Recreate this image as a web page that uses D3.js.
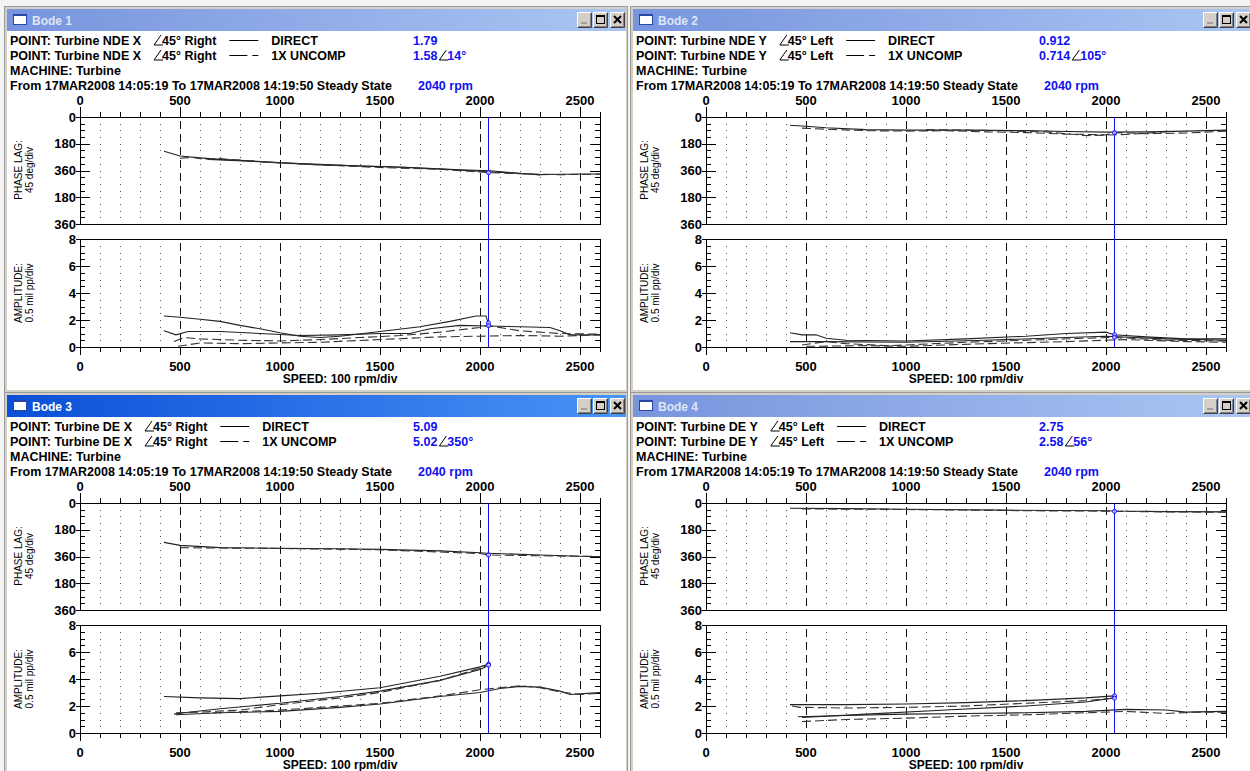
<!DOCTYPE html>
<html>
<head>
<meta charset="utf-8">
<script src="https://cdn.jsdelivr.net/npm/d3@7"></script>
<style>
  body { margin: 0; background: #f4f4f4; }
  svg { display: block; font-family: "Liberation Sans", Arial, sans-serif; }
</style>
</head>
<body>
<svg id="chart" width="1250" height="771"></svg>
<script>
// ---- axis values ----
const speedMax = 2600;
const speedLabels = [0, 500, 1000, 1500, 2000, 2500];
const phaseLabelTicks = [0, 180, 360, 540, 720];
const phaseLabelText = ["0", "180", "360", "180", "360"];
const ampLabelTicks = [0, 2, 4, 6, 8];
const cursorRpm = 2040;

// ---- window headers ----
const windowTitles = ["Bode 1", "Bode 2", "Bode 3", "Bode 4"];
const pointNames = ["Turbine NDE X", "Turbine NDE Y", "Turbine DE X", "Turbine DE Y"];
const orientations = ["Right", "Left", "Right", "Left"];
const directAmp = [1.79, 0.912, 5.09, 2.75];
const uncompAmp = [1.58, 0.714, 5.02, 2.58];
const uncompPhase = [14, 105, 350, 56];
const activeWindow = "Bode 3";

// ---- traces: [rpm, phase deg (0..720 display)] ----
const bode1PhaseDirect = [
  [[420, 230], [500, 262], [600, 275], [700, 285], [800, 292], [1000, 308], [1200, 318], [1400, 330], [1600, 338], [1800, 350], [2000, 365], [2040, 368], [2200, 380], [2300, 388], [2400, 385], [2600, 384]],
  [[640, 285], [900, 300], [1200, 322], [1600, 336], [1900, 356], [2050, 362], [2300, 390]]
];
const bode1PhaseUncomp = [
  [[500, 278], [560, 272], [620, 285], [700, 280], [800, 290], [1000, 310], [1200, 322], [1500, 340], [1800, 352], [2000, 370], [2040, 374], [2200, 382], [2400, 388], [2600, 384]]
];
const bode2PhaseDirect = [
  [[420, 55], [500, 62], [600, 72], [800, 85], [1000, 88], [1300, 88], [1600, 92], [1800, 98], [2000, 102], [2200, 100], [2400, 95], [2600, 88]]
];
const bode2PhaseUncomp = [
  [[480, 75], [600, 82], [800, 92], [1000, 95], [1200, 92], [1400, 100], [1600, 105], [1800, 115], [2000, 120], [2040, 105], [2200, 112], [2400, 108], [2600, 95]],
  [[1100, 85], [1400, 90], [1700, 100], [1900, 125], [2100, 118], [2300, 100]]
];
const bode3PhaseDirect = [
  [[420, 265], [500, 285], [700, 300], [1000, 305], [1300, 308], [1500, 312], [1800, 322], [2000, 335], [2040, 338], [2300, 350], [2500, 358], [2600, 362]]
];
const bode3PhaseUncomp = [
  [[500, 300], [700, 303], [1000, 306], [1500, 315], [2000, 340], [2040, 350], [2300, 355], [2600, 360]]
];
const bode4PhaseDirect = [
  [[420, 35], [700, 38], [1000, 42], [1500, 48], [2000, 52], [2040, 54], [2300, 58], [2600, 60]]
];
const bode4PhaseUncomp = [
  [[480, 40], [800, 42], [1200, 46], [1600, 52], [2000, 55], [2040, 56], [2300, 60], [2600, 62]]
];

// ---- traces: [rpm, amplitude mil pp] ----
const bode1AmpDirect = [
  [[420, 2.3], [500, 2.2], [600, 2.05], [700, 1.9], [800, 1.6], [900, 1.35], [1000, 1.05], [1100, 0.8], [1200, 0.7], [1300, 0.8], [1500, 1.15], [1700, 1.5], [1850, 1.9], [1980, 2.3], [2030, 2.3], [2040, 1.79]],
  [[420, 1.2], [480, 0.9], [540, 1.15], [700, 1.15], [900, 1.0], [1100, 0.85], [1300, 0.9], [1500, 1.0], [1650, 1.0], [1750, 1.35], [1900, 1.6], [2040, 1.55], [2200, 1.5], [2350, 1.45], [2400, 1.2], [2450, 0.9], [2600, 0.9]]
];
const bode1AmpUncomp = [
  [[470, 0.4], [520, 0.7], [600, 0.6], [800, 0.5], [1000, 0.45], [1200, 0.55], [1400, 0.7], [1600, 0.85], [1800, 1.1], [2000, 1.45], [2040, 1.58], [2200, 1.2], [2400, 1.0], [2600, 0.95]],
  [[490, 0.05], [600, 0.3], [800, 0.25], [1000, 0.3], [1200, 0.35], [1500, 0.55], [1800, 0.75], [2000, 0.8], [2200, 0.85], [2400, 0.8], [2600, 0.9]]
];
const bode2AmpDirect = [
  [[420, 1.05], [480, 0.9], [550, 0.9], [600, 0.65], [700, 0.5], [1000, 0.45], [1300, 0.6], [1600, 0.8], [1800, 1.0], [2000, 1.1], [2040, 0.912], [2200, 0.75], [2400, 0.6], [2600, 0.6]],
  [[420, 0.4], [600, 0.4], [1000, 0.35], [1400, 0.5], [1800, 0.7], [2000, 0.8], [2300, 0.6], [2600, 0.5]]
];
const bode2AmpUncomp = [
  [[480, 0.15], [600, 0.4], [700, 0.25], [900, 0.1], [1000, 0.15], [1300, 0.35], [1600, 0.5], [1900, 0.65], [2040, 0.714], [2300, 0.5], [2600, 0.45]],
  [[500, 0.05], [800, 0.1], [1000, 0.05], [1400, 0.25], [1800, 0.4], [2100, 0.55], [2400, 0.4], [2600, 0.35]]
];
const bode3AmpDirect = [
  [[420, 2.7], [600, 2.6], [800, 2.55], [1000, 2.75], [1200, 2.95], [1500, 3.35], [1800, 4.2], [2000, 4.9], [2040, 5.09]],
  [[470, 1.4], [520, 1.5], [700, 1.8], [1000, 2.2], [1300, 2.7], [1500, 3.1], [1800, 3.9], [2000, 4.7], [2030, 4.9]],
  [[480, 1.35], [700, 1.5], [1000, 1.6], [1300, 1.9], [1500, 2.15], [1800, 2.7], [2000, 3.0], [2100, 3.3], [2200, 3.45], [2300, 3.4], [2400, 3.1], [2450, 2.85], [2500, 2.9], [2600, 3.0]]
];
const bode3AmpUncomp = [
  [[480, 1.5], [600, 1.55], [800, 1.7], [1000, 2.1], [1300, 2.6], [1500, 3.0], [1800, 3.9], [2000, 4.8], [2040, 5.02]],
  [[600, 1.45], [1000, 1.7], [1500, 2.2], [1800, 2.75], [2000, 3.2], [2200, 3.5], [2300, 3.35], [2400, 3.05], [2500, 2.85], [2600, 2.95]]
];
const bode4AmpDirect = [
  [[420, 2.1], [700, 2.1], [1000, 2.15], [1300, 2.25], [1600, 2.4], [1900, 2.6], [2040, 2.75]],
  [[460, 1.2], [700, 1.3], [1000, 1.4], [1300, 1.45], [1600, 1.5], [1900, 1.6], [2100, 1.75], [2300, 1.7], [2400, 1.55], [2600, 1.6]],
  [[480, 1.15], [800, 1.4], [1200, 1.7], [1600, 2.0], [1900, 2.3], [2040, 2.6]]
];
const bode4AmpUncomp = [
  [[430, 2.0], [470, 1.9], [700, 1.85], [1000, 1.9], [1300, 2.0], [1600, 2.2], [1900, 2.4], [2040, 2.58]],
  [[480, 0.85], [700, 1.0], [1000, 1.1], [1300, 1.25], [1600, 1.35], [1900, 1.5], [2100, 1.6], [2300, 1.45], [2450, 1.55], [2600, 1.55]]
];

const phaseDirect = [bode1PhaseDirect, bode2PhaseDirect, bode3PhaseDirect, bode4PhaseDirect];
const phaseUncomp = [bode1PhaseUncomp, bode2PhaseUncomp, bode3PhaseUncomp, bode4PhaseUncomp];
const ampDirect = [bode1AmpDirect, bode2AmpDirect, bode3AmpDirect, bode4AmpDirect];
const ampUncomp = [bode1AmpUncomp, bode2AmpUncomp, bode3AmpUncomp, bode4AmpUncomp];

const svg = d3.select("#chart");
const blue = "#1010f0";

const defs = svg.append("defs");
const gradInactive = defs.append("linearGradient").attr("id", "tbInactive");
gradInactive.append("stop").attr("offset", "0%").attr("stop-color", "#7894dd");
gradInactive.append("stop").attr("offset", "100%").attr("stop-color", "#a9c6f3");
const gradActive = defs.append("linearGradient").attr("id", "tbActive");
gradActive.append("stop").attr("offset", "0%").attr("stop-color", "#0a50d8");
gradActive.append("stop").attr("offset", "100%").attr("stop-color", "#4894f6");

// linear lookup of a trace at given rpm
function valueAt(trace, rpm) {
  for (let k = 1; k < trace.length; k++) {
    const a = trace[k - 1], b = trace[k];
    if (rpm >= a[0] && rpm <= b[0]) return a[1] + (b[1] - a[1]) * (rpm - a[0]) / (b[0] - a[0]);
  }
  return trace[trace.length - 1][1];
}

function drawButton(g, x, y, kind) {
  const b = g.append("g").attr("transform", `translate(${x},${y})`);
  b.append("rect").attr("width", 15).attr("height", 16).attr("fill", "#d4d0c8");
  b.append("path").attr("d", "M0.5,15.5V0.5H14.5").attr("stroke", "#fff").attr("fill", "none");
  b.append("path").attr("d", "M0.5,15.5H14.5V0.5").attr("stroke", "#404040").attr("fill", "none");
  b.append("path").attr("d", "M1.5,14.5H13.5V1.5").attr("stroke", "#808080").attr("fill", "none");
  if (kind === "min") {
    b.append("rect").attr("x", 4).attr("y", 10).attr("width", 6).attr("height", 2).attr("fill", "#a0a0a0");
  } else if (kind === "max") {
    b.append("rect").attr("x", 3.5).attr("y", 3.5).attr("width", 8).attr("height", 8)
      .attr("fill", "none").attr("stroke", "#000");
    b.append("rect").attr("x", 3).attr("y", 3).attr("width", 9).attr("height", 2).attr("fill", "#000");
  } else {
    b.append("path").attr("d", "M4,4L11,11M11,4L4,11").attr("stroke", "#000").attr("stroke-width", 2);
  }
}

function angleGlyph(g, x, by) {
  g.append("path").attr("d", `M${x},${by}L${x + 7},${by - 10}M${x},${by}H${x + 9}`)
    .attr("stroke", "#000").attr("stroke-width", 1).attr("fill", "none");
}

function drawPanel(i) {
  const ox = (i % 2) * 626, oy = Math.floor(i / 2) * 386;
  const g = svg.append("g").attr("transform", `translate(${ox},${oy})`);
  const active = windowTitles[i] === activeWindow;

  // window chrome
  g.append("rect").attr("x", 4.5).attr("y", 6.5).attr("width", 623).attr("height", 387)
    .attr("fill", "#d4d0c8").attr("stroke", "#9a9a9a");
  g.append("rect").attr("x", 7).attr("y", 9).attr("width", 619).attr("height", 22)
    .attr("fill", active ? "url(#tbActive)" : "url(#tbInactive)");
  g.append("rect").attr("x", 7).attr("y", 31).attr("width", 619).attr("height", 359).attr("fill", "#fff");
  g.append("rect").attr("x", 13.5).attr("y", 14.5).attr("width", 13).attr("height", 10)
    .attr("fill", "#fff").attr("stroke", "#2646a8");
  g.append("rect").attr("x", 13).attr("y", 14).attr("width", 14).attr("height", 2).attr("fill", "#2646a8");
  g.append("text").attr("x", 32).attr("y", 25).attr("font-size", 12).attr("font-weight", "bold")
    .attr("fill", active ? "#fff" : "#dde6f8").text(windowTitles[i]);
  drawButton(g, 577, 12, "min");
  drawButton(g, 593, 12, "max");
  drawButton(g, 610, 12, "close");

  // header
  const hdr = g.append("g").attr("font-size", 12.5).attr("font-weight", "bold").attr("fill", "#000");
  ["DIRECT", "1X UNCOMP"].forEach((kind, r) => {
    const by = 45 + r * 15;
    const t = hdr.append("text").attr("x", 10).attr("y", by).text("POINT: " + pointNames[i]);
    let x = 10 + t.node().getComputedTextLength() + 13;
    angleGlyph(hdr, x, by);
    const t2 = hdr.append("text").attr("x", x + 8).attr("y", by).text("45° " + orientations[i]);
    x = x + 8 + t2.node().getComputedTextLength() + 13;
    hdr.append("line").attr("x1", x).attr("x2", x + 29).attr("y1", by - 4.5).attr("y2", by - 4.5)
      .attr("stroke", "#000").attr("stroke-dasharray", r === 0 ? null : "18,5,6,100");
    hdr.append("text").attr("x", x + 42).attr("y", by).text(kind);
    const v = hdr.append("text").attr("x", 413).attr("y", by).attr("fill", blue)
      .text(String(r === 0 ? directAmp[i] : uncompAmp[i]));
    if (r === 1) {
      const vx = 413 + v.node().getComputedTextLength() + 2;
      angleGlyph(hdr, vx, by);
      hdr.append("text").attr("x", vx + 8).attr("y", by).attr("fill", blue).text(uncompPhase[i] + "°");
    }
  });
  hdr.append("text").attr("x", 10).attr("y", 75).text("MACHINE: Turbine");
  hdr.append("text").attr("x", 10).attr("y", 90).text("From 17MAR2008 14:05:19 To 17MAR2008 14:19:50 Steady State");
  hdr.append("text").attr("x", 418).attr("y", 90).attr("fill", blue).text(cursorRpm + " rpm");

  // scales
  const x = d3.scaleLinear().domain([0, speedMax]).range([80, 600]);
  const yPhase = d3.scaleLinear().domain([0, 720]).range([117, 224]);
  const yAmp = d3.scaleLinear().domain([0, 8]).range([347, 239]);

  const minorRpm = d3.range(0, speedMax + 1, 100);
  const gridRpm = minorRpm.filter(v => v % 500 !== 0);
  const majorRpm = d3.range(500, speedMax, 500);

  function plot(y, minorStep, majorStep, labelTicks, labelText, direct, uncomp, topAxis, bottomAxis, id) {
    const pg = g.append("g");
    const [y0, y1] = y.range().slice().sort((a, b) => a - b);
    const dom = y.domain().slice().sort((a, b) => a - b);
    const minorY = d3.range(dom[0], dom[1] + 1e-9, minorStep);

    // dotted grid: points at minor intersections
    const dots = [];
    gridRpm.forEach(r => minorY.forEach(v => { if (v > dom[0] && v < dom[1]) dots.push([r, v]); }));
    pg.append("g").selectAll("rect").data(dots).join("rect")
      .attr("x", d => Math.round(x(d[0]))).attr("y", d => Math.round(y(d[1])))
      .attr("width", 1).attr("height", 1).attr("fill", "#555");
    // dashed verticals every 500 rpm
    pg.append("g").selectAll("line").data(majorRpm).join("line")
      .attr("x1", d => Math.round(x(d)) + 0.5).attr("x2", d => Math.round(x(d)) + 0.5)
      .attr("y1", y0 + 4).attr("y2", y1)
      .attr("stroke", "#111").attr("stroke-dasharray", "8,5");

    // axes ticks
    const ax = pg.append("g").attr("stroke", "#000").attr("shape-rendering", "crispEdges");
    minorY.forEach(v => {
      const major = Math.abs(v / majorStep - Math.round(v / majorStep)) < 1e-9;
      const yy = Math.round(y(v)) + 0.5;
      ax.append("line").attr("x1", major ? 76 : 80).attr("x2", major ? 90 : 85).attr("y1", yy).attr("y2", yy);
      ax.append("line").attr("x1", 600).attr("x2", major ? 590 : 595).attr("y1", yy).attr("y2", yy);
    });
    if (topAxis) {
      minorRpm.forEach(r => {
        const xx = Math.round(x(r)) + 0.5;
        ax.append("line").attr("x1", xx).attr("x2", xx).attr("y1", y0).attr("y2", r % 500 === 0 ? y0 - 10 : y0 - 5);
      });
    }
    if (bottomAxis) {
      minorRpm.forEach(r => {
        const xx = Math.round(x(r)) + 0.5;
        ax.append("line").attr("x1", xx).attr("x2", xx).attr("y1", y1).attr("y2", r % 500 === 0 ? y1 + 8 : y1 + 5);
      });
    }
    pg.append("rect").attr("x", 80.5).attr("y", y0 + 0.5).attr("width", 520).attr("height", y1 - y0)
      .attr("fill", "none").attr("stroke", "#000").attr("shape-rendering", "crispEdges");

    // y labels
    pg.append("g").attr("font-size", 13).attr("font-weight", "bold").attr("text-anchor", "end")
      .selectAll("text").data(labelTicks).join("text")
      .attr("x", 76).attr("y", d => y(d) + 4.5).text((d, k) => labelText[k]);

    // traces
    defs.append("clipPath").attr("id", id).append("rect")
      .attr("x", 80).attr("y", y0).attr("width", 520).attr("height", y1 - y0);
    const line = d3.line().x(d => x(d[0])).y(d => y(d[1]));
    const tg = pg.append("g").attr("clip-path", `url(#${id})`).attr("fill", "none");
    tg.selectAll(".direct").data(direct).join("path").attr("class", "direct")
      .attr("d", line).attr("stroke", "#222").attr("stroke-width", 1.1);
    tg.selectAll(".uncomp").data(uncomp).join("path").attr("class", "uncomp")
      .attr("d", line).attr("stroke", "#333").attr("stroke-width", 1.1).attr("stroke-dasharray", "9,4");
  }

  plot(yPhase, 45, 180, phaseLabelTicks, phaseLabelText, phaseDirect[i], phaseUncomp[i], true, false, "cp" + i);
  plot(yAmp, 0.5, 2, ampLabelTicks, ampLabelTicks.map(String), ampDirect[i], ampUncomp[i], false, true, "ca" + i);

  // top and bottom speed labels
  const lab = g.append("g").attr("font-size", 13).attr("font-weight", "bold").attr("text-anchor", "middle");
  lab.selectAll(".top").data(speedLabels).join("text").attr("class", "top")
    .attr("x", d => x(d)).attr("y", 105).text(d => d);
  lab.selectAll(".bot").data(speedLabels).join("text").attr("class", "bot")
    .attr("x", d => x(d)).attr("y", 371).text(d => d);
  g.append("text").attr("x", 340).attr("y", 383).attr("text-anchor", "middle")
    .attr("font-size", 12).attr("font-weight", "bold").text("SPEED: 100 rpm/div");

  // y axis titles
  const yt = g.append("g").attr("font-size", 10).attr("text-anchor", "middle");
  [["PHASE LAG:", "45 deg/div", 170], ["AMPLITUDE:", "0.5 mil pp/div", 293]].forEach(([a, b, cy]) => {
    yt.append("text").attr("transform", `translate(22,${cy}) rotate(-90)`).text(a);
    yt.append("text").attr("transform", `translate(33,${cy}) rotate(-90)`).text(b);
  });

  // cursor
  const cx = Math.round(x(cursorRpm)) + 0.5;
  g.append("line").attr("x1", cx).attr("x2", cx).attr("y1", 117).attr("y2", 347)
    .attr("stroke", blue).attr("stroke-width", 1);
  const mk = g.append("g").attr("fill", "#fff").attr("fill-opacity", 0.6).attr("stroke", blue).attr("stroke-width", 1);
  mk.append("circle").attr("cx", cx).attr("cy", yPhase(valueAt(phaseUncomp[i][0], cursorRpm))).attr("r", 2);
  mk.append("circle").attr("cx", cx).attr("cy", yAmp(directAmp[i])).attr("r", 2);
  mk.append("circle").attr("cx", cx).attr("cy", yAmp(uncompAmp[i])).attr("r", 2);
}

[0, 1, 2, 3].forEach(drawPanel);
</script>
</body>
</html>
